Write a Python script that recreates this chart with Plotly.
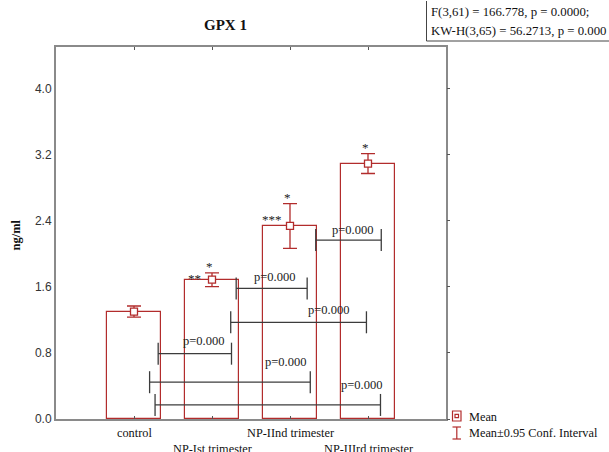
import plotly.graph_objects as go

# ---------------- data ----------------
categories = ["control", "NP-Ist trimester", "NP-IInd trimester", "NP-IIIrd trimester"]
means = [1.30, 1.685, 2.335, 3.09]
ci95 = [0.067, 0.083, 0.27, 0.12]
y_ticks = [0.0, 0.8, 1.6, 2.4, 3.2, 4.0]

# pairwise comparisons: start, end (category units), level (ng/ml)
cmp_start = [1.31, 1.24, 0.31, 0.20, 0.27, 2.33]
cmp_end = [2.22, 2.98, 1.25, 2.26, 3.16, 3.17]
cmp_level = [1.58, 1.17, 0.79, 0.445, 0.17, 2.165]
cmp_text = ["p=0.000"] * 6
cmp_label_x = [1.80, 2.49, 0.89, 1.94, 2.92, 2.80]
cmp_label_y = [1.713, 1.324, 0.939, 0.688, 0.417, 2.288]

stats_lines = ["F(3,61) = 166.778, p = 0.0000;", "KW-H(3,65) = 56.2713, p = 0.000"]

# ---------------- layout constants ----------------
W, H = 609, 452
L, R, T, B = 56, 446, 47, 419
PW, PH = R - L, B - T
RED = "#b22c2c"
FRAME = "#8a8a8a"
BRK = "#3c3c3c"
SERIF = "Liberation Serif, Times New Roman, serif"
SANS = "Liberation Sans, Arial, sans-serif"


def px(x):
    return (x - L) / PW


def py(y):
    return (B - y) / PH


def note(x, y, text, size=12.3, xanchor="center", yanchor="middle", **kw):
    return dict(x=px(x), y=py(y), xref="paper", yref="paper", text=text, showarrow=False,
                xanchor=xanchor, yanchor=yanchor,
                font=dict(family=SERIF, size=size, color="#111"), **kw)


fig = go.Figure()

fig.add_trace(go.Bar(
    x=list(range(len(categories))), y=means, width=0.7,
    marker=dict(color="white", line=dict(color=RED, width=1.2)),
    showlegend=False, hoverinfo="skip"))

fig.add_trace(go.Scatter(
    x=list(range(len(categories))), y=means, mode="markers",
    marker=dict(symbol="square", size=7, color="white", line=dict(color=RED, width=1.3)),
    error_y=dict(type="data", array=ci95, visible=True, color=RED, thickness=1.3, width=7),
    showlegend=False))

# invisible trace for right-side mirrored y ticks
fig.add_trace(go.Scatter(x=[0], y=[0], yaxis="y2", mode="markers",
                         marker=dict(opacity=0), showlegend=False, hoverinfo="skip"))

shapes = []
annotations = []
TK = 11  # bracket end half height in px
for s, e, lv, tx, lx, ly in zip(cmp_start, cmp_end, cmp_level, cmp_text, cmp_label_x, cmp_label_y):
    shapes.append(dict(type="line", xref="x", yref="y", x0=s, x1=e, y0=lv, y1=lv,
                       line=dict(color=BRK, width=1.3)))
    for xe in (s, e):
        shapes.append(dict(type="line", xref="x", yref="y", x0=xe, x1=xe,
                           ysizemode="pixel", yanchor=lv, y0=-TK, y1=TK,
                           line=dict(color=BRK, width=1.3)))
    annotations.append(dict(x=lx, y=ly, xref="x", yref="y", text=tx, showarrow=False,
                            xanchor="center", yanchor="middle",
                            font=dict(family=SERIF, size=12.5, color="#222")))

# significance stars
for i in (1, 2, 3):
    annotations.append(dict(x=i, y=means[i] + ci95[i], xref="x", yref="y", text="*",
                            showarrow=False, xanchor="center", yanchor="bottom", xshift=-3, yshift=-3,
                            font=dict(family=SERIF, size=13, color="#222")))
annotations.append(dict(x=1, y=means[1], xref="x", yref="y", text="**", showarrow=False,
                        xanchor="right", yanchor="middle", xshift=-9, yshift=1,
                        font=dict(family=SERIF, size=13, color="#222")))
annotations.append(dict(x=2, y=means[2], xref="x", yref="y", text="***", showarrow=False,
                        xanchor="right", yanchor="middle", xshift=-6, yshift=6,
                        font=dict(family=SERIF, size=13, color="#222")))

# category labels (staggered)
label_rows = [433, 449, 433, 449]
for i, (c, yy) in enumerate(zip(categories, label_rows)):
    annotations.append(dict(x=i, y=py(yy), xref="x", yref="paper", text=c, showarrow=False,
                            xanchor="center", yanchor="middle",
                            font=dict(family=SERIF, size=12.3, color="#111")))

# title and y title
annotations.append(note(225, 25, "<b>GPX 1</b>", size=15))
annotations.append(note(15.5, 235, "<b>ng/ml</b>", size=12.5, textangle=-90))

# stats box
annotations.append(note(428.5, 12, stats_lines[0], size=12.8, xanchor="left"))
annotations.append(note(428.5, 31, stats_lines[1], size=12.8, xanchor="left"))
shapes.append(dict(type="line", xref="paper", yref="paper", x0=px(426.5), x1=px(426.5), y0=py(1), y1=py(41),
                   line=dict(color="#444", width=1)))
shapes.append(dict(type="line", xref="paper", yref="paper", x0=px(426.5), x1=px(612), y0=py(41), y1=py(41),
                   line=dict(color="#444", width=1)))

# legend
shapes.append(dict(type="rect", xref="paper", yref="paper", x0=px(452.5), x1=px(461), y0=py(411), y1=py(421),
                   line=dict(color=RED, width=1.2)))
shapes.append(dict(type="rect", xref="paper", yref="paper", x0=px(455), x1=px(458.5), y0=py(414.3), y1=py(417.7),
                   line=dict(color=RED, width=1.2)))
shapes.append(dict(type="line", xref="paper", yref="paper", x0=px(456.8), x1=px(456.8), y0=py(427), y1=py(439),
                   line=dict(color=RED, width=1.2)))
for yy in (427, 439):
    shapes.append(dict(type="line", xref="paper", yref="paper", x0=px(452.5), x1=px(461), y0=py(yy), y1=py(yy),
                       line=dict(color=RED, width=1.2)))
annotations.append(note(466.5, 416.5, "Mean", xanchor="left"))
annotations.append(note(466.5, 432.5, "Mean±0.95 Conf. Interval", xanchor="left"))

fig.update_layout(
    width=W, height=H,
    margin=dict(l=L, r=W - R, t=T, b=H - B, pad=0, autoexpand=False),
    paper_bgcolor="white", plot_bgcolor="white",
    shapes=shapes, annotations=annotations,
    showlegend=False, bargap=0,
    xaxis=dict(range=[-1, 4], tickvals=list(range(len(categories))), showticklabels=False,
               automargin=False,
               ticks="inside", ticklen=3, tickcolor="#555", mirror="ticks",
               showline=True, linecolor=FRAME, linewidth=2, showgrid=False, zeroline=False),
    yaxis=dict(range=[0, 4.5], tickvals=y_ticks, ticktext=[f"{v:.1f}" for v in y_ticks],
               automargin=False,
               ticks="", showline=True, linecolor=FRAME, linewidth=2, mirror=True,
               showgrid=False, zeroline=False,
               tickfont=dict(family=SANS, size=12, color="#333")),
    yaxis2=dict(range=[0, 4.5], overlaying="y", side="right", tickvals=y_ticks, automargin=False,
                showticklabels=False, ticks="outside", ticklen=3, tickcolor="#555",
                showgrid=False, zeroline=False, showline=False),
)

fig.write_html("out.html", config={"displayModeBar": False},
               post_script="document.body.style.margin='0';document.body.style.overflow='hidden';")
